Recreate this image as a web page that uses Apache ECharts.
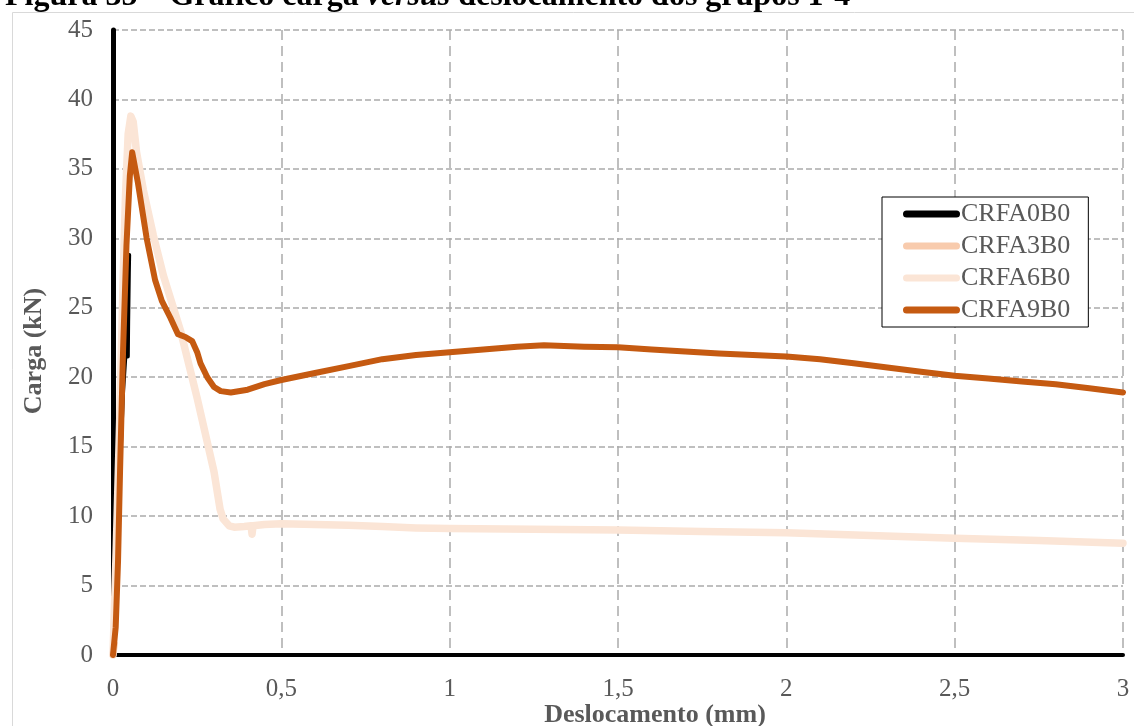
<!DOCTYPE html>
<html>
<head>
<meta charset="utf-8">
<script src="https://cdn.jsdelivr.net/npm/echarts@6/dist/echarts.min.js"></script>
<style>
  html, body { margin: 0; padding: 0; background: #ffffff; }
  #chart { width: 1134px; height: 726px; }
</style>
</head>
<body>
<div id="chart"></div>
<script>
// Load (kN) versus displacement (mm) curves, one array of [mm, kN] pairs per group
const seriesNames = ['CRFA0B0', 'CRFA3B0', 'CRFA6B0', 'CRFA9B0'];
const seriesColors = ['#000000', '#F8CBAD', '#FBE5D6', '#C55A11'];

const crfa0b0 = [
  [0, 0], [0.01, 6], [0.02, 13], [0.03, 19], [0.038, 22], [0.042, 26],
  [0.045, 28.3], [0.048, 28.8], [0.047, 27.5], [0.045, 24], [0.044, 21.5]
];

const crfa3b0 = [
  [0, 0], [0.002, 0.4], [0.004, 0.8]
];

const crfa6b0 = [
  [0, 0], [0.01, 8], [0.02, 17], [0.03, 27], [0.037, 33], [0.045, 37.5],
  [0.053, 38.8], [0.06, 38.4], [0.07, 36.2], [0.09, 33.5], [0.12, 30.2],
  [0.15, 27.3], [0.2, 23.4], [0.25, 18.5], [0.3, 13.2], [0.318, 10.5],
  [0.327, 9.8], [0.345, 9.3], [0.36, 9.2], [0.39, 9.25], [0.41, 9.3],
  [0.413, 8.7], [0.416, 9.3], [0.45, 9.4], [0.5, 9.45], [0.6, 9.4],
  [0.7, 9.35], [0.8, 9.25], [0.9, 9.15], [1.0, 9.1], [1.25, 9.05],
  [1.5, 9.0], [1.75, 8.9], [2.0, 8.8], [2.25, 8.6], [2.5, 8.4],
  [2.75, 8.25], [3.0, 8.05]
];

const crfa9b0 = [
  [0, 0], [0.008, 2], [0.015, 6.8], [0.021, 13.3], [0.03, 22], [0.04, 29.5],
  [0.05, 34.5], [0.057, 36.2], [0.062, 36.2], [0.074, 34], [0.1, 30],
  [0.125, 27], [0.145, 25.5], [0.17, 24.3], [0.193, 23.1], [0.215, 22.9],
  [0.235, 22.6], [0.25, 21.8], [0.26, 21], [0.28, 20], [0.3, 19.3],
  [0.32, 19], [0.35, 18.9], [0.4, 19.1], [0.45, 19.5], [0.5, 19.8],
  [0.6, 20.3], [0.7, 20.8], [0.8, 21.3], [0.9, 21.6], [1.0, 21.8],
  [1.1, 22.0], [1.2, 22.2], [1.28, 22.3], [1.4, 22.2], [1.5, 22.15],
  [1.6, 22.0], [1.7, 21.85], [1.8, 21.7], [1.9, 21.6], [2.0, 21.5],
  [2.1, 21.3], [2.2, 21.0], [2.3, 20.7], [2.4, 20.4], [2.5, 20.1],
  [2.6, 19.9], [2.7, 19.7], [2.8, 19.5], [2.9, 19.2], [3.0, 18.9]
];

const seriesData = [crfa0b0, crfa3b0, crfa6b0, crfa9b0];
const lineWidths = [4, 7, 7.5, 6];

const serif = '"Liberation Serif", "Times New Roman", serif';
const labelGray = '#595959';
const gridGray = '#ababab';
// capsule-shaped legend key
const legendIcon = 'path://M3.5,0 L53.5,0 A3.5,3.5 0 0 1 53.5,7 L3.5,7 A3.5,3.5 0 0 1 3.5,0 Z';

const chart = echarts.init(document.getElementById('chart'), null, { renderer: 'canvas' });

chart.setOption({
  animation: false,
  backgroundColor: '#ffffff',
  title: {
    text: '{b|Figura 35 – Gráfico carga }{i|versus}{b| deslocamento dos grupos 1-4}',
    left: 0,
    top: -24,
    textStyle: {
      rich: {
        b: { fontFamily: serif, fontWeight: 'bold', fontSize: 32, color: '#000000' },
        i: { fontFamily: serif, fontWeight: 'bold', fontStyle: 'italic', fontSize: 32, color: '#000000' }
      }
    }
  },
  graphic: [
    {
      type: 'rect',
      silent: true,
      z: -10,
      shape: { x: 12.5, y: 12.5, width: 1140, height: 740 },
      style: { fill: 'none', stroke: '#d9d9d9', lineWidth: 1 }
    },
    {
      type: 'text',
      silent: true,
      x: 655,
      y: 715,
      style: {
        text: 'Deslocamento (mm)',
        font: 'bold 26px ' + serif,
        fill: labelGray,
        align: 'center',
        verticalAlign: 'middle'
      }
    },
    {
      type: 'text',
      silent: true,
      x: 34,
      y: 351,
      rotation: Math.PI / 2,
      style: {
        text: 'Carga (kN)',
        font: 'bold 26px ' + serif,
        fill: labelGray,
        align: 'center',
        verticalAlign: 'middle'
      }
    }
  ],
  grid: { left: 113, right: 11, top: 30, bottom: 71, containLabel: false },
  legend: {
    data: seriesNames.map(n => ({ name: n, icon: legendIcon })),
    orient: 'vertical',
    left: 882,
    top: 197,
    padding: [4, 18, 4, 21],
    itemWidth: 57,
    itemHeight: 7,
    itemGap: 6,
    backgroundColor: '#ffffff',
    borderColor: '#000000',
    borderWidth: 1,
    borderRadius: 0,
    textStyle: { fontFamily: serif, fontSize: 26, color: labelGray, padding: [0, 0, 0, -4] }
  },
  xAxis: {
    type: 'value',
    min: 0,
    max: 3,
    interval: 0.5,
    axisLine: { onZero: false, lineStyle: { color: '#000000', width: 4 } },
    axisTick: { show: false },
    axisLabel: {
      fontFamily: serif, fontSize: 25, color: labelGray, margin: 22,
      formatter: v => String(v).replace('.', ',')
    },
    splitLine: { show: true, lineStyle: { color: gridGray, width: 1.5, type: [10, 6] } }
  },
  yAxis: {
    type: 'value',
    min: 0,
    max: 45,
    interval: 5,
    axisLine: { show: true, onZero: false, lineStyle: { color: '#000000', width: 5 } },
    axisTick: { show: false },
    axisLabel: { fontFamily: serif, fontSize: 25, color: labelGray, margin: 20 },
    splitLine: { show: true, lineStyle: { color: gridGray, width: 1.5, type: [6, 3] } }
  },
  series: seriesNames.map((name, i) => ({
    name: name,
    type: 'line',
    data: seriesData[i],
    symbol: 'none',
    smooth: false,
    color: seriesColors[i],
    itemStyle: { color: seriesColors[i] },
    lineStyle: { color: seriesColors[i], width: lineWidths[i], cap: 'round', join: 'round' },
    z: 2 + i
  }))
});
</script>
</body>
</html>
